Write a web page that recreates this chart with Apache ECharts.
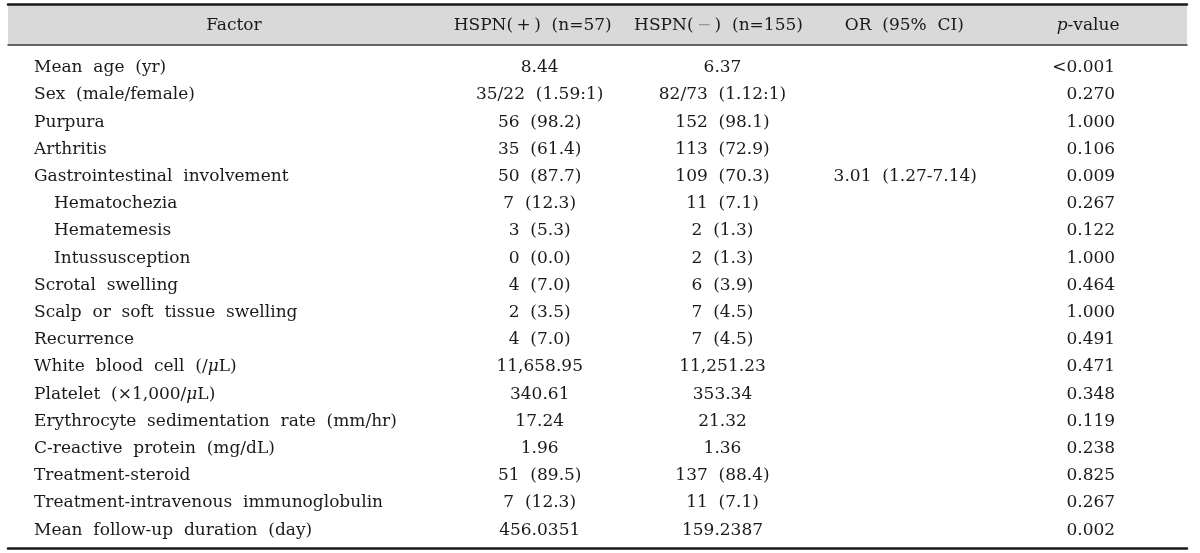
<!DOCTYPE html>
<html><head><meta charset="utf-8">
<script src="https://cdn.jsdelivr.net/npm/echarts@6/dist/echarts.min.js"></script>
<style>html,body{margin:0;padding:0;background:#fff}#c{width:1200px;height:553px}</style>
</head><body><div id="c"></div>
<script>
// ---------- data ----------
const columns = ['Factor', 'HSPN(\u2009+\u2009)  (n=57)', 'HSPN(\u2009{g|−}\u2009)  (n=155)', 'OR  (95%  CI)', '{i|p}-value'];
const factors = [
  'Mean  age  (yr)',
  'Sex  (male/female)',
  'Purpura',
  'Arthritis',
  'Gastrointestinal  involvement',
  'Hematochezia',
  'Hematemesis',
  'Intussusception',
  'Scrotal  swelling',
  'Scalp  or  soft  tissue  swelling',
  'Recurrence',
  'White  blood  cell  (/μL)',
  'Platelet  (×1,000/μL)',
  'Erythrocyte  sedimentation  rate  (mm/hr)',
  'C-reactive  protein  (mg/dL)',
  'Treatment-steroid',
  'Treatment-intravenous  immunoglobulin',
  'Mean  follow-up  duration  (day)'
];
const subItems = ['Hematochezia', 'Hematemesis', 'Intussusception'];
const hspnPos = ['8.44', '35/22  (1.59:1)', '56  (98.2)', '35  (61.4)', '50  (87.7)', '7  (12.3)', '3  (5.3)', '0  (0.0)',
  '4  (7.0)', '2  (3.5)', '4  (7.0)', '11,658.95', '340.61', '17.24', '1.96', '51  (89.5)', '7  (12.3)', '456.0351'];
const hspnNeg = ['6.37', '82/73  (1.12:1)', '152  (98.1)', '113  (72.9)', '109  (70.3)', '11  (7.1)', '2  (1.3)', '2  (1.3)',
  '6  (3.9)', '7  (4.5)', '7  (4.5)', '11,251.23', '353.34', '21.32', '1.36', '137  (88.4)', '11  (7.1)', '159.2387'];
const oddsRatio = ['', '', '', '', '3.01  (1.27-7.14)', '', '', '', '', '', '', '', '', '', '', '', '', ''];
const pValues = ['<0.001', '0.270', '1.000', '0.106', '0.009', '0.267', '0.122', '1.000', '0.464', '1.000', '0.491',
  '0.471', '0.348', '0.119', '0.238', '0.825', '0.267', '0.002'];

// ---------- style ----------
const FONT = 'DejaVu Serif';
const FS = 17;
const INK = '#1a1a1a';
const headerOffsets = [108, 171, 121, 71, 19];

const chart = echarts.init(document.getElementById('c'), null, {renderer: 'canvas'});

function colSeries(colIdx, texts, labelOpt) {
  return {
    type: 'scatter', xAxisIndex: 0, yAxisIndex: 0, symbolSize: 0, silent: true,
    itemStyle: {opacity: 1},
    data: texts.map((t, i) => t ? {value: [colIdx, i], text: t} : null).filter(Boolean),
    label: Object.assign({show: true, position: 'inside', color: INK, opacity: 1, fontFamily: FONT, fontSize: FS,
      verticalAlign: 'middle', formatter: p => p.data.text}, labelOpt)
  };
}

const richStyles = {
  i: {fontStyle: 'italic', fontFamily: FONT, fontSize: FS, color: INK},
  g: {fontFamily: FONT, fontSize: FS, color: '#9a9a9a'}
};

chart.setOption({
  animation: false,
  grid: [
    {left: 8, right: 13, top: 54.2, height: 489.6},
    {left: 8, right: 13, top: 4, height: 41, show: true, backgroundColor: '#d9d9d9', borderWidth: 0}
  ],
  xAxis: [
    {gridIndex: 0, type: 'category', data: columns, position: 'bottom', offset: 4,
      axisLine: {lineStyle: {color: INK, width: 2.5}}, axisTick: {show: false}, axisLabel: {show: false}, splitLine: {show: false}},
    {gridIndex: 1, type: 'category', data: columns, position: 'top',
      axisLine: {lineStyle: {color: INK, width: 2.5}}, axisTick: {show: false}, axisLabel: {show: false}, splitLine: {show: false}},
    {gridIndex: 1, type: 'category', data: columns, position: 'bottom',
      axisLine: {lineStyle: {color: '#3a3a3a', width: 1.5}}, axisTick: {show: false}, axisLabel: {show: false}, splitLine: {show: false}}
  ],
  yAxis: [
    {gridIndex: 0, type: 'category', data: factors, inverse: true,
      axisLine: {show: false}, axisTick: {show: false}, splitLine: {show: false},
      axisLabel: {
        show: true, interval: 0, align: 'left', margin: -26, color: INK, fontFamily: FONT, fontSize: FS,
        formatter: v => {
          const t = v.replace(/μ/g, '{i|μ}');
          return subItems.indexOf(v) >= 0 ? '{ind|' + t + '}' : t;
        },
        rich: Object.assign({ind: {padding: [0, 0, 0, 20], fontFamily: FONT, fontSize: FS, color: INK}}, richStyles)
      }},
    {gridIndex: 1, type: 'category', data: ['header'], show: false}
  ],
  series: [
    colSeries(1, hspnPos, {offset: [178, 0]}),
    colSeries(2, hspnNeg, {offset: [125, 0]}),
    colSeries(3, oddsRatio, {offset: [72, 0]}),
    colSeries(4, pValues, {offset: [46, 0], align: 'right'}),
    {
      type: 'scatter', xAxisIndex: 1, yAxisIndex: 1, symbolSize: 0, silent: true,
      itemStyle: {opacity: 1},
      data: columns.map((c, i) => ({value: [i, 0], text: c, label: {offset: [headerOffsets[i], 1.5]}})),
      label: {show: true, position: 'inside', color: INK, opacity: 1, fontFamily: FONT, fontSize: FS,
        verticalAlign: 'middle', formatter: p => p.data.text, rich: richStyles}
    }
  ]
});
</script></body></html>
